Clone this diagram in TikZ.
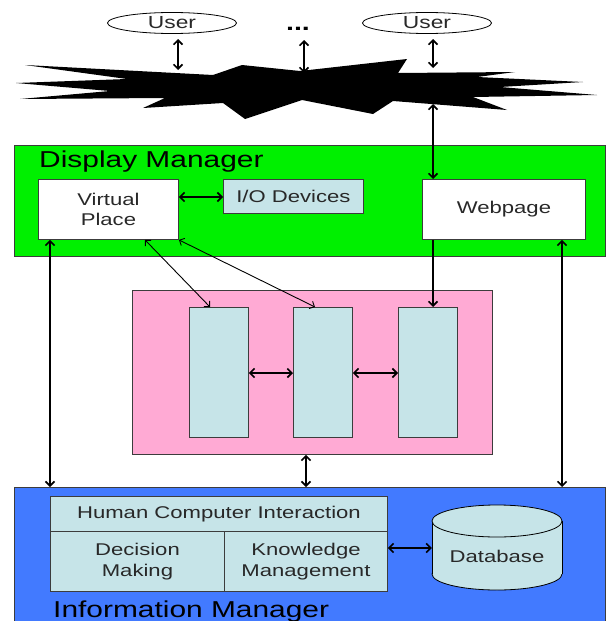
\documentclass[tikz,border=0pt]{standalone}
\usepackage{fontspec}
\setmainfont[FakeStretch=1.3]{Liberation Sans}
\usetikzlibrary{arrows.meta,shapes.geometric}
\definecolor{dmgreen}{RGB}{0,240,0}
\definecolor{pinkbg}{RGB}{255,170,212}
\definecolor{lblue}{RGB}{198,228,232}
\definecolor{imblue}{RGB}{66,122,255}
\definecolor{bordergray}{RGB}{60,60,60}
\definecolor{textgray}{RGB}{40,40,40}
\begin{document}
\begin{tikzpicture}[x=1pt,y=-1pt,
  box/.style={draw=bordergray, line width=0.9pt, inner sep=0pt, anchor=north west, align=center,
              font=\fontsize{17}{20.5}\selectfont, text=textgray},
  bigtext/.style={font=\fontsize{23}{26}\selectfont, inner sep=0pt},
  arr/.style={line width=1.6pt, {Straight Barb[length=4.5pt,width=9pt]}-{Straight Barb[length=4.5pt,width=9pt]}},
  arrone/.style={line width=1.6pt, -{Straight Barb[length=4.5pt,width=9pt]}},
  thinarr/.style={line width=0.9pt, {Straight Barb[length=4pt,width=8pt]}-{Straight Barb[length=4pt,width=8pt]}},
  usernode/.style={ellipse, draw=black, line width=0.8pt, fill=white, minimum width=129pt, minimum height=21pt,
              inner sep=0pt, font=\fontsize{17.5}{20}\selectfont, text=textgray}]
\useasboundingbox (0,0) rectangle (607,621);
\fill[white] (0,0) rectangle (607,621);

% users
\node[usernode] (user1) at (172,23) {User};
\node[usernode] (user2) at (427,23) {User};
\node[font=\bfseries\fontsize{22}{24}\selectfont, inner sep=0pt, anchor=base] (dots) at (298,30) {...};

% network cloud
\fill[black] (25,65) -- (213,75) -- (242,65) -- (300,71) -- (407,59) -- (398,73) -- (515,72)
  -- (477,77) -- (583,82) -- (500,87) -- (597,95) -- (473,97) -- (507,110) -- (393,101)
  -- (373,114) -- (302,100) -- (245,119) -- (223,103) -- (143,108) -- (165,98) -- (20,99)
  -- (110,91) -- (16,83) -- (127,79) -- cycle;
\coordinate (ct1) at (178,70);
\coordinate (ut1) at (178,39);
\coordinate (ct2) at (304,73);
\coordinate (ut2) at (304,40);
\coordinate (ct3) at (433,68);
\coordinate (ut3) at (433,39);
\coordinate (cb3) at (433,104);

% display manager
\node[box, fill=dmgreen, minimum width=591pt, minimum height=111pt] (dm) at (14,145) {};
\node[bigtext, anchor=base west] (dmlabel) at (39,167) {Display Manager};
\node[box, fill=white, minimum width=140pt, minimum height=60pt] (vp) at (38,179) {Virtual\\Place};
\node[box, fill=lblue, minimum width=140pt, minimum height=34pt] (io) at (223,179) {I/O Devices};
\node[box, fill=white, minimum width=163pt, minimum height=60pt] (web) at (422,179) {Webpage};

% middle pink area
\node[box, fill=pinkbg, minimum width=360pt, minimum height=164pt] (mid) at (132,290) {};
\node[box, fill=lblue, minimum width=59pt, minimum height=130pt] (r1) at (189,307) {};
\node[box, fill=lblue, minimum width=59pt, minimum height=130pt] (r2) at (293,307) {};
\node[box, fill=lblue, minimum width=59pt, minimum height=130pt] (r3) at (398,307) {};

% information manager
\node[box, fill=imblue, minimum width=591pt, minimum height=145pt] (im) at (14,487) {};
\node[box, fill=lblue, minimum width=337pt, minimum height=35pt] (hci) at (50,496) {Human Computer Interaction};
\node[box, fill=lblue, minimum width=174pt, minimum height=60pt] (dmk) at (50,531) {Decision\\Making};
\node[box, fill=lblue, minimum width=163pt, minimum height=60pt] (km) at (224,531) {Knowledge\\Management};
\node[bigtext, anchor=base west] (imlabel) at (53,617) {Information Manager};

% database cylinder
\node[minimum width=130pt, minimum height=85pt, inner sep=0pt] (db) at (497,547.5) {};
\filldraw[fill=lblue, draw=black, line width=0.8pt] (497,574) ellipse [x radius=65pt, y radius=16pt];
\fill[lblue] (432,521) rectangle (562,574);
\draw[black, line width=0.8pt] (432,521) -- (432,574) (562,521) -- (562,574);
\filldraw[fill=lblue, draw=black, line width=0.8pt] (497,521) ellipse [x radius=65pt, y radius=16pt];
\node[font=\fontsize{17}{20}\selectfont, text=textgray, inner sep=0pt] (dbtext) at (497,556) {Database};

% connectors
\draw[arr] (ut1) -- (ct1);
\draw[arr] (ut2) -- (ct2);
\draw[arr] (ut3) -- (ct3);
\draw[arr] (cb3) -- (web.north -| cb3);
\draw[arr] (vp.east |- 0,197) -- (io.west |- 0,197);
\draw[arrone] (web.south -| cb3) -- (r3.north -| cb3);
\draw[thinarr] (vp.south -| 145,0) -- (r1.north -| 210,0);
\draw[thinarr] (vp.south east) -- (r2.north -| 315,0);
\draw[arr] (r1.east |- 0,373) -- (r2.west |- 0,373);
\draw[arr] (r2.east |- 0,373) -- (r3.west |- 0,373);
\draw[arr] (vp.south -| 50,0) -- (im.north -| 50,0);
\draw[arr] (web.south -| 562,0) -- (im.north -| 562,0);
\draw[arr] (mid.south -| 306,0) -- (im.north -| 306,0);
\draw[arr] (km.east |- 0,548) -- (db.west |- 0,548);
\end{tikzpicture}
\end{document}
